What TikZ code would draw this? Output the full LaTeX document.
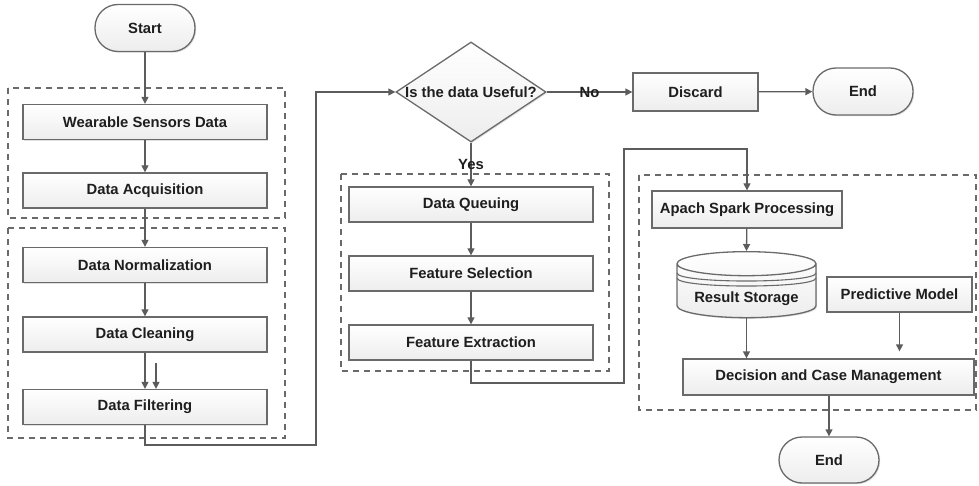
\documentclass[tikz,border=0pt]{standalone}
\usepackage{fontspec}
\setmainfont{Liberation Sans}
\usetikzlibrary{shapes.geometric,arrows.meta,shadows,positioning}

\definecolor{edgegray}{HTML}{6A6A6A}
\definecolor{linegray}{HTML}{5C5C5C}
\definecolor{boxfill}{HTML}{EDEDED}
\definecolor{txt}{HTML}{1E1E1E}

\tikzset{
  boxbase/.style={draw=edgegray, line width=1.3pt, top color=white, bottom color=boxfill,
    text=txt, font=\fontsize{14.8}{17}\selectfont\bfseries, inner sep=0pt,
    drop shadow={shadow xshift=1.2pt, shadow yshift=-1.2pt, fill=black, opacity=0.12}},
  proc/.style={boxbase, rectangle, minimum width=244pt, minimum height=35pt},
  term/.style={boxbase, rectangle, rounded corners=23pt, minimum width=100pt, minimum height=47pt},
  decide/.style={boxbase, diamond, minimum width=150pt, minimum height=100pt},
  store/.style={boxbase, cylinder, shape border rotate=90, aspect=0.23,
    minimum width=139pt, minimum height=66pt},
  grp/.style={draw=edgegray, line width=1.8pt, dash pattern=on 6pt off 5pt},
  line/.style={draw=linegray, line width=1.3pt, -{Triangle[width=7pt,length=7pt]}},
  lbl/.style={text=txt, font=\fontsize{14.8}{17}\selectfont\bfseries, inner sep=0pt},
}

\begin{document}
\begin{tikzpicture}[x=1pt, y=-1pt]
    \useasboundingbox (0,0) rectangle (979,486);

    % dashed groups
    \draw[grp] (8,88) rectangle (285,218);
    \draw[grp] (8,228) rectangle (285,438);
    \draw[grp] (341,174) rectangle (609,371);
    \draw[grp] (639,175) rectangle (976,410);

    % left column
    \node[term] (start) at (145,28) {Start};
    \node[proc] (wsd) at (145,122) {Wearable Sensors Data};
    \node[proc] (acq) at (145,190.5) {Data Acquisition};
    \node[proc] (norm) at (145,265) {Data Normalization};
    \node[proc] (clean) at (145,334.5) {Data Cleaning};
    \node[proc] (filt) at (145,407) {Data Filtering};

    % middle column
    \node[decide] (useful) at (471,92) {\makebox[0pt]{Is the data Useful?}};
    \node[proc, minimum width=125pt, minimum height=38pt] (discard) at (695.5,92) {Discard};
    \node[term] (end1) at (863,91.5) {End};
    \node[proc] (queue) at (471,204.5) {Data Queuing};
    \node[proc] (select) at (471,273.5) {Feature Selection};
    \node[proc] (extract) at (471,342.5) {Feature Extraction};

    % right column
    \node[proc, minimum width=190pt, minimum height=37pt] (spark) at (747,209.5) {Apach Spark Processing};
    \node[store] (result) at (746.5,291) {\raisebox{-11.5pt}[0pt][0pt]{Result Storage}};
    \node[proc, minimum width=145pt, minimum height=35pt] (pred) at (899.5,294.5) {Predictive Model};
    \node[proc, minimum width=291pt, minimum height=36pt] (dcm) at (828.5,377) {Decision and Case Management};
    \node[term, minimum height=46pt] (end2) at (829,460) {End};

    % extra lines on the storage lid
    \draw[edgegray, line width=1.1pt] (677,273) .. controls (677,283.7) and (816,283.7) .. (816,273);
    \draw[edgegray, line width=1.1pt] (677,278) .. controls (677,288.7) and (816,288.7) .. (816,278);

    \coordinate (j1) at (316,445);
    \coordinate (j2) at (624,383);
    \coordinate (j3) at (747,149);
    \coordinate (loose) at (156,363);

    \draw[line] (start) -- (wsd);
    \draw[line] (wsd) -- (acq);
    \draw[line] (acq) -- (norm);
    \draw[line] (norm) -- (clean);
    \draw[line] (clean) -- (filt);
    \draw[line] (loose) -- (loose |- filt.north);
    \draw[line] (filt.south) |- (j1) |- (useful.west);

    \draw[line] (useful) -- node[lbl] {No} (discard);
    \draw[line] (discard) -- (end1);
    \draw[line] (useful) -- node[lbl] {Yes} (queue);
    \draw[line] (queue) -- (select);
    \draw[line] (select) -- (extract);
    \draw[line] (extract.south) |- (j2) |- (j3) -- (spark.north);

    \draw[line] (spark) -- (result.top);
    \draw[line] (result.bottom) -- (result.bottom |- dcm.north);
    \draw[line, shorten >=7pt] (pred.south) -- (pred.south |- dcm.north);
    \draw[line] (dcm.south -| end2.north) -- (end2.north);
\end{tikzpicture}
\end{document}
